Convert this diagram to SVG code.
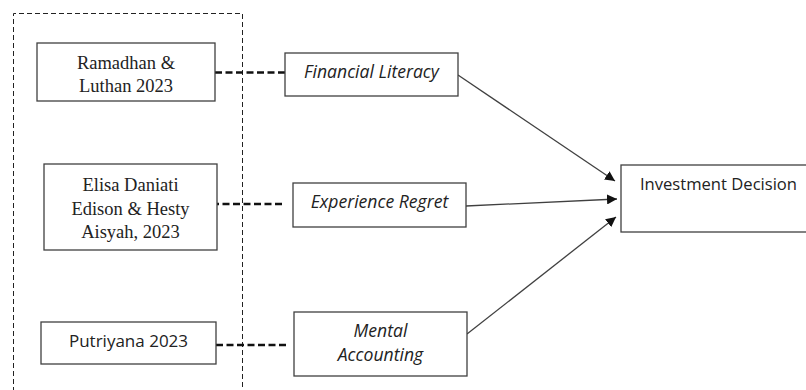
<svg xmlns="http://www.w3.org/2000/svg" width="806" height="390" viewBox="0 0 806 390">
<defs>
<style>
.box{fill:#fff;stroke:#404040;stroke-width:1.3}
.serif{font-family:"Liberation Serif","Times New Roman",serif;font-size:18.5px;fill:#222;text-anchor:middle}
.sans{font-family:"Open Sans","Liberation Sans",sans-serif;font-size:16.6px;fill:#222;text-anchor:middle}
.it{font-style:italic;font-size:17.6px}
.dash{stroke:#111;stroke-width:2.4;stroke-dasharray:7 3.5;fill:none}
.arrow{stroke:#404040;stroke-width:1.3;fill:none;marker-end:url(#ah)}
.frame{fill:none;stroke:#222;stroke-width:1;stroke-dasharray:5 3}
</style>
<marker id="ah" viewBox="0 0 10 10" refX="10" refY="5" markerWidth="10" markerHeight="10" markerUnits="userSpaceOnUse" orient="auto">
<path d="M0,0 L10,5 L0,10 z" fill="#111"/>
</marker>
</defs>
<rect width="806" height="390" fill="#fff"/>
<g id="frame">
<path class="frame" d="M13.5,400 V13.5 H242.5 V400"/>
</g>
<g id="connectors">
<line class="dash" x1="215" y1="72.5" x2="285" y2="72.5"/>
<line class="dash" x1="212" y1="204" x2="283" y2="204"/>
<line class="dash" x1="216" y1="345" x2="288" y2="345"/>
<line class="arrow" x1="458" y1="75" x2="615" y2="181"/>
<line class="arrow" x1="466" y1="206" x2="617" y2="199"/>
<line class="arrow" x1="467" y1="334" x2="616" y2="217"/>
</g>
<g id="ramadhan">
<rect class="box" x="37" y="43" width="178" height="58"/>
<text class="serif" x="126" y="69">Ramadhan &amp;</text>
<text class="serif" x="126" y="92">Luthan 2023</text>
</g>
<g id="elisa">
<rect class="box" x="44" y="164" width="173" height="86"/>
<text class="serif" x="130.5" y="191">Elisa Daniati</text>
<text class="serif" x="130.5" y="215">Edison &amp; Hesty</text>
<text class="serif" x="130.5" y="238">Aisyah, 2023</text>
</g>
<g id="putriyana">
<rect class="box" x="41" y="322" width="175" height="42"/>
<text class="sans" x="128.5" y="347" style="font-size:17px">Putriyana 2023</text>
</g>
<g id="financial-literacy">
<rect class="box" x="285" y="53" width="173" height="43"/>
<text class="sans it" x="371.5" y="78">Financial Literacy</text>
</g>
<g id="experience-regret">
<rect class="box" x="293" y="183" width="173" height="44"/>
<text class="sans it" x="379.5" y="208">Experience Regret</text>
</g>
<g id="mental-accounting">
<rect class="box" x="294" y="312" width="173" height="64"/>
<text class="sans it" x="380.5" y="337">Mental</text>
<text class="sans it" x="380.5" y="361">Accounting</text>
</g>
<g id="investment-decision">
<rect class="box" x="621" y="165" width="195" height="67"/>
<text class="sans" x="718.5" y="190">Investment Decision</text>
</g>
</svg>
